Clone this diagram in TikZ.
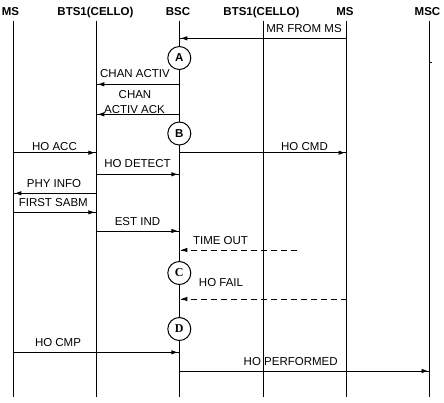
\documentclass[tikz,border=0pt]{standalone}
\usepackage{fontspec}
\setmainfont{Liberation Sans}
\newfontfamily\circserif{Liberation Serif}
\usetikzlibrary{arrows.meta,decorations.markings}
\begin{document}
\begin{tikzpicture}[x=1pt,y=-1pt,
  font=\fontsize{11.5}{13}\selectfont,
  head/.style={font=\fontsize{11.5}{13}\selectfont\bfseries, anchor=base, inner sep=0pt},
  lbl/.style={anchor=base, inner sep=0pt},
  life/.style={line width=1pt},
  msg/.style={line width=1pt, postaction={decorate},
    decoration={markings, mark=at position -2pt with {\arrow{Triangle[length=6pt,width=4pt]}}}},
  dmsg/.style={msg, dash pattern=on 6pt off 4pt},
  statebox/.style={circle, draw, line width=1pt, fill=white, minimum size=23pt, inner sep=0pt,
    font=\fontsize{11.5}{12}\selectfont\bfseries},
  statebox2/.style={statebox, font=\fontsize{12}{13}\selectfont\circserif\bfseries}]
\useasboundingbox (0,0) rectangle (444,402);
% headers
\node[head] (hMS1) at (10.5,15) {MS};
\node[head] (hBTS1) at (95.5,15) {BTS1(CELLO)};
\node[head] (hBSC) at (178,15) {BSC};
\node[head] (hBTS2) at (261.5,15) {BTS1(CELLO)};
\node[head] (hMS2) at (345,15) {MS};
\node[head] (hMSC) at (427.5,15) {MSC};
% lifelines
\foreach \n/\x in {ms1/13.3, bts1/96.3, bsc/179.3, bts2/263, ms2/346.5, msc/429.5} {
  \coordinate (\n) at (\x,20.5);
  \coordinate (\n b) at (\x,397);
  \draw[life] (\n) -- (\n b);
}
\coordinate (tick) at (429.5,62);
\draw[line width=1pt] (tick) -- ++(2.5,0);
% message levels
\coordinate (y1) at (0,38.3);
\coordinate (y2) at (0,84.3);
\coordinate (y3) at (0,114.3);
\coordinate (y4) at (0,152.7);
\coordinate (y5) at (0,174.3);
\coordinate (y6) at (0,193.3);
\coordinate (y7) at (0,212.3);
\coordinate (y8) at (0,231);
\coordinate (y9) at (0,250);
\coordinate (y10) at (0,299);
\coordinate (y11) at (0,352.3);
\coordinate (y12) at (0,371);
\coordinate (toend) at (297,250);
% messages
\draw[msg] (ms2 |- y1) -- (bsc |- y1);
\draw[msg] (bsc |- y2) -- (bts1 |- y2);
\draw[msg] (bsc |- y3) -- (bts1 |- y3);
\draw[msg] (ms1 |- y4) -- (bts1 |- y4);
\draw[msg] (bsc |- y4) -- (ms2 |- y4);
\draw[msg] (bts1 |- y5) -- (bsc |- y5);
\draw[msg] (bts1 |- y6) -- (ms1 |- y6);
\draw[msg] (ms1 |- y7) -- (bts1 |- y7);
\draw[msg] (bts1 |- y8) -- (bsc |- y8);
\draw[dmsg] (toend) -- (bsc |- y9);
\draw[dmsg] (ms2 |- y10) -- (bsc |- y10);
\draw[msg] (ms1 |- y11) -- (bsc |- y11);
\draw[msg] (bsc |- y12) -- (msc |- y12);
% state circles
\node[statebox] (A) at (179.3,58) {A};
\node[statebox] (B) at (179.3,133.5) {B};
\node[statebox2] (C) at (179.3,273) {C};
\node[statebox2] (D) at (179.3,329) {D};
% labels
\node[lbl] (l1) at (304,32) {MR FROM MS};
\node[lbl] (l2) at (135,77) {CHAN ACTIV};
\node[lbl] (l3a) at (135,98) {CHAN};
\node[lbl] (l3b) at (134.5,113) {ACTIV ACK};
\node[lbl] (l4) at (54.5,150) {HO ACC};
\node[lbl] (l5) at (304.5,150) {HO CMD};
\node[lbl] (l6) at (137.5,167) {HO DETECT};
\node[lbl] (l7) at (54,187) {PHY INFO};
\node[lbl] (l8) at (53.3,206) {FIRST SABM};
\node[lbl] (l9) at (137.5,225) {EST IND};
\node[lbl] (l10) at (220.5,244) {TIME OUT};
\node[lbl] (l11) at (221,286) {HO FAIL};
\node[lbl] (l12) at (58,346.5) {HO CMP};
\node[lbl] (l13) at (290.7,365) {HO PERFORMED};
\end{tikzpicture}
\end{document}
